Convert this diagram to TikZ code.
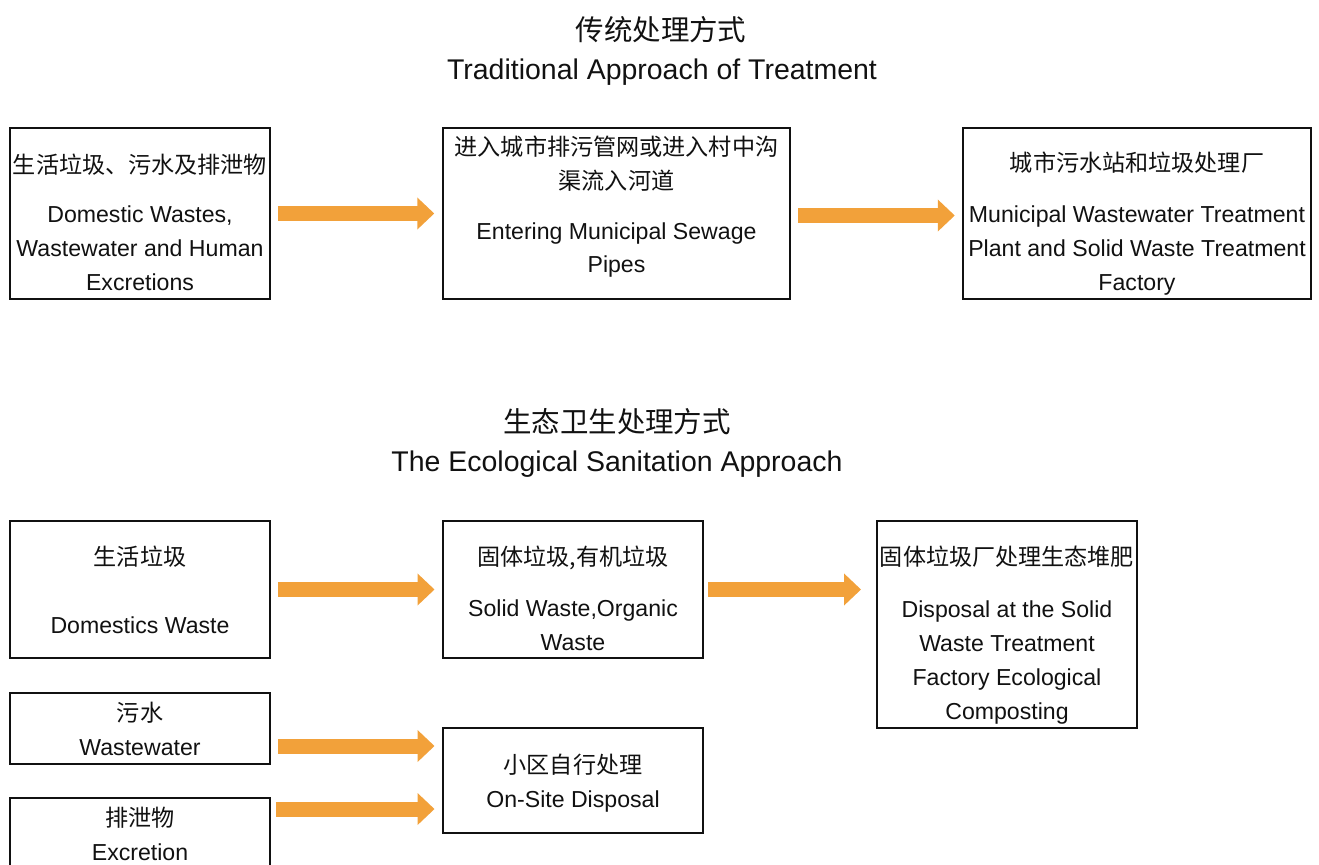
\documentclass[tikz,border=0pt]{standalone}
\usepackage{fontspec}
\setmainfont{Liberation Sans}
\newfontfamily\cjk{Noto Sans CJK SC}
\usetikzlibrary{arrows.meta,positioning}
\definecolor{ink}{HTML}{111111}
\definecolor{flowfill}{HTML}{F2A13A}
\newcommand\boxfont{\fontsize{13.15}{19.3}\selectfont}
\newcommand\headfont{\fontsize{16.2}{20}\selectfont}
% invisible struts that move a box's text down (top) or up (bottom)
\newcommand\padtop[1]{\rule{0pt}{#1}}
\newcommand\padbot[1]{\rule[-#1]{0pt}{0pt}}

\begin{document}
\begin{tikzpicture}[
  unit/.style={draw=ink,line width=1.1pt,fill=white,minimum width=5.2cm,
    inner sep=0pt,align=center,text=ink,font=\boxfont},
  wide/.style={unit,minimum width=6.95cm},
  heading/.style={inner sep=0pt,text=ink,font=\headfont},
  flow/.style={-{Triangle[width=0.62cm,length=0.34cm]},line width=0.3cm,
    draw=flowfill,shorten <=0.14cm,shorten >=0.15cm}
]
\useasboundingbox (0,0) rectangle (26.38,-17.28);
% titles
\node[heading] (oldcn) at (13.22,-0.6) {\cjk 传统处理方式};
\node[heading] (olden) at (13.24,-1.44) {Traditional Approach of Treatment};
\node[heading] (ecocn) at (12.34,-8.44) {\cjk 生态卫生处理方式};
\node[heading] (ecoen) at (12.34,-9.28) {The Ecological Sanitation Approach};
% traditional approach
\node[unit,minimum height=3.42cm] (domestic) at (2.8,-4.27)
  {\padtop{0.74cm}{\cjk 生活垃圾、污水及排泄物}\\[0.32cm]Domestic Wastes,\\Wastewater and Human\\Excretions};
\node[wide,minimum height=3.42cm] (sewer) at (12.33,-4.27)
  {{\cjk 进入城市排污管网或进入村中沟}\\{\cjk 渠流入河道}\\[0.31cm]Entering Municipal Sewage\\Pipes\padbot{0.36cm}};
\node[wide,minimum height=3.42cm] (plant) at (22.74,-4.27)
  {\padtop{0.8cm}{\cjk 城市污水站和垃圾处理厂}\\[0.34cm]Municipal Wastewater Treatment\\Plant and Solid Waste Treatment\\Factory};
% ecological sanitation approach
\node[unit,minimum height=2.74cm] (garbage) at (2.8,-11.79)
  {{\cjk 生活垃圾}\\[0.68cm]Domestics Waste};
\node[unit,minimum height=2.74cm] (solid) at (11.46,-11.79)
  {\padtop{0.74cm}{\cjk 固体垃圾,有机垃圾}\\[0.34cm]Solid Waste,Organic\\Waste};
\node[unit,minimum height=4.14cm] (compost) at (20.14,-12.49)
  {\padtop{0.82cm}{\cjk 固体垃圾厂处理生态堆肥}\\[0.36cm]Disposal at the Solid\\Waste Treatment\\Factory Ecological\\Composting};
\node[unit,minimum height=1.42cm] (water) at (2.8,-14.57)
  {{\cjk 污水}\\Wastewater};
\node[unit,minimum height=2.1cm] (onsite) at (11.46,-15.61)
  {\padtop{0.5cm}{\cjk 小区自行处理}\\On-Site Disposal};
\node[unit,minimum height=1.45cm] (excreta) at (2.8,-16.685)
  {{\cjk 排泄物}\\Excretion};
% connectors
\draw[flow] (domestic) -- (sewer);
\draw[flow] ([yshift=-0.04cm]sewer.east) -- ([yshift=-0.04cm]plant.west);
\draw[flow] (garbage) -- (solid);
\draw[flow,shorten <=0.08cm,shorten >=0.3cm] (solid) -- (solid.east -| compost.west);
\draw[flow] ([yshift=-0.35cm]water.east) -- ([yshift=-0.35cm]water.east -| onsite.west);
\draw[flow,shorten <=0.1cm] ([yshift=-0.24cm]excreta.north east) -- ([yshift=-0.24cm]excreta.north east -| onsite.west);
\end{tikzpicture}
\end{document}
